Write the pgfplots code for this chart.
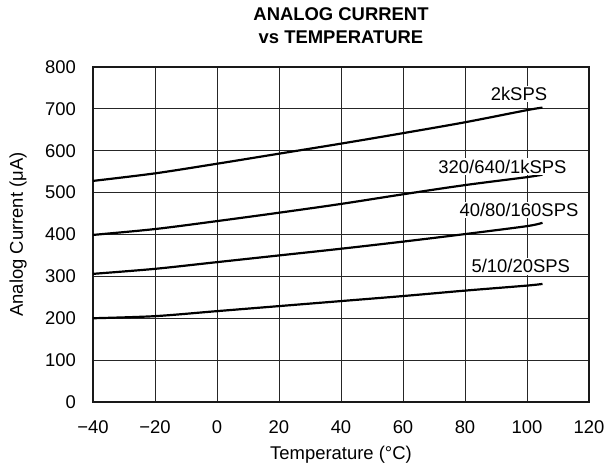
\documentclass[border=0pt]{standalone}
\usepackage{fontspec}
\setmainfont{Liberation Sans}
\setsansfont{Liberation Sans}
\usepackage{pgfplots}
\pgfplotsset{compat=1.18}

\begin{document}
\begin{tikzpicture}
\begin{axis}[
    name=ax,
    scale only axis,
    width=496bp, height=335bp,
    xmin=-40, xmax=120, ymin=0, ymax=800,
    xtick={-40,-20,...,120},
    xticklabels={−40,−20,0,20,40,60,80,100,120},
    ytick={0,100,...,800},
    /pgf/number format/assume math mode=true,
    ticklabel style={font=\fontsize{18.5}{20}\selectfont, inner sep=0pt},
    xticklabel style={anchor=center, yshift=-25bp},
    yticklabel style={anchor=east, xshift=-17bp},
    major tick length=0pt,
    grid=major,
    major grid style={black!85, line width=0.75pt},
    axis line style={black!90, line width=1.6pt},
    title={\textbf{ANALOG CURRENT}\\\textbf{vs TEMPERATURE}},
    title style={font=\fontsize{18.5}{23}\selectfont, align=center,
        at={(axis description cs:0.5,1)}, anchor=center, yshift=35bp},
    xlabel={Temperature (°C)},
    ylabel={Analog Current (μA)},
    label style={font=\fontsize{18.5}{20}\selectfont},
    xlabel style={at={(axis description cs:0.5,0)}, anchor=center, yshift=-53bp},
    ylabel style={at={(axis description cs:0,0.5)}, anchor=center, yshift=75bp},
]
% 2kSPS
\addplot[black, line width=2.2pt, smooth, no marks] coordinates {(-40,528) (-20,546) (0,569) (20,593) (40,617) (60,642) (80,668) (100,697) (105,703)};
% 320/640/1kSPS
\addplot[black, line width=2.2pt, smooth, no marks] coordinates {(-40,399) (-20,413) (0,432) (20,452) (40,473) (60,496) (80,518) (100,537) (105,543)};
% 40/80/160SPS
\addplot[black, line width=2.2pt, smooth, no marks] coordinates {(-40,306) (-20,318) (0,334) (20,350) (40,366) (60,383) (80,401) (100,420) (105,428)};
% 5/10/20SPS
\addplot[black, line width=2.2pt, smooth, no marks] coordinates {(-40,200) (-20,205) (0,217) (20,229) (40,241) (60,253) (80,266) (100,278) (105,282)};

\tikzset{lbl/.style={font=\fontsize{18.5}{20}\selectfont, fill=white, inner sep=1.5bp}}
\node[lbl] at (axis cs:97.4,736) {2kSPS};
\node[lbl] at (axis cs:92.1,562) {320/640/1kSPS};
\node[lbl] at (axis cs:97.4,458) {40/80/160SPS};
\node[lbl] at (axis cs:98,324) {5/10/20SPS};
\end{axis}
\pgfresetboundingbox
\useasboundingbox ([xshift=-93bp,yshift=-62bp]ax.south west) rectangle ([xshift=18bp,yshift=67bp]ax.north east);
\end{tikzpicture}
\end{document}
